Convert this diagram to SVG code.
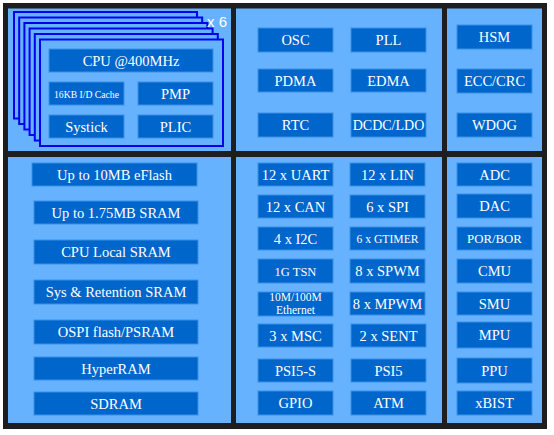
<svg xmlns="http://www.w3.org/2000/svg" width="554" height="435" viewBox="0 0 554 435">
<style>
.frame{fill:#1e1e1e}
.cell{fill:#66b2ff}
.stk{fill:#66b2ff;stroke:#0000ee;stroke-width:2}
.n{fill:#0066cc;stroke:#3b8fe3;stroke-width:1}
.t{fill:#ffffff;font-family:"Liberation Serif","Times New Roman",serif;font-size:14.5px;text-anchor:middle}
.s{font-size:12.5px}
.xs{font-size:11.5px}
.x6{fill:#ffffff;font-family:"Liberation Sans",Arial,sans-serif;font-size:15px}
</style>
<rect width="554" height="435" fill="#ffffff"/>
<rect class="frame" x="3" y="3" width="544" height="426"/>
<g id="cells">
<rect class="cell" x="8" y="8.5" width="223" height="142.5"/>
<rect class="cell" x="236" y="8.5" width="206" height="142.5"/>
<rect class="cell" x="447" y="8.5" width="95" height="142.5"/>
<rect class="cell" x="8" y="157" width="223" height="266"/>
<rect class="cell" x="236" y="157" width="206" height="266"/>
<rect class="cell" x="447" y="157" width="95" height="266"/>
</g>
<g id="cpu-stack">
<rect class="stk" x="14" y="12" width="183" height="106.5"/>
<rect class="stk" x="19.2" y="17.5" width="183" height="106.5"/>
<rect class="stk" x="24.4" y="23" width="183" height="106.5"/>
<rect class="stk" x="29.6" y="28.5" width="183" height="106.5"/>
<rect class="stk" x="34.8" y="34" width="183" height="106.5"/>
<rect class="stk" x="40" y="39.5" width="183" height="106.5"/>
<text class="x6" x="207" y="27">x 6</text>
</g>
<g id="cpu"><rect class="n" x="49" y="49" width="164" height="23"/><text class="t" x="131" y="65.5">CPU @400MHz</text></g>
<g id="cache"><rect class="n" x="49" y="82" width="75" height="23"/><text class="t" x="86.5" y="97.5" style="font-size:11px" textLength="65" lengthAdjust="spacingAndGlyphs">16KB I/D Cache</text></g>
<g id="pmp"><rect class="n" x="138" y="82" width="75" height="23"/><text class="t" x="175.5" y="98.5">PMP</text></g>
<g id="systick"><rect class="n" x="49" y="115" width="75" height="23"/><text class="t" x="86.5" y="131.5">Systick</text></g>
<g id="plic"><rect class="n" x="138" y="115" width="75" height="23"/><text class="t" x="175.5" y="131.5">PLIC</text></g>

<g id="osc"><rect class="n" x="258" y="28" width="75" height="24"/><text class="t" x="295.5" y="45">OSC</text></g>
<g id="pll"><rect class="n" x="351" y="28" width="75" height="24"/><text class="t" x="388.5" y="45">PLL</text></g>
<g id="pdma"><rect class="n" x="258" y="69" width="75" height="23"/><text class="t" x="295.5" y="85.5">PDMA</text></g>
<g id="edma"><rect class="n" x="351" y="69" width="75" height="23"/><text class="t" x="388.5" y="85.5">EDMA</text></g>
<g id="rtc"><rect class="n" x="258" y="113" width="75" height="24"/><text class="t" x="295.5" y="130">RTC</text></g>
<g id="dcdc"><rect class="n" x="351" y="113" width="75" height="24"/><text class="t" x="388.5" y="130" style="font-size:14px">DCDC/LDO</text></g>

<g id="hsm"><rect class="n" x="457" y="25" width="75" height="24"/><text class="t" x="494.5" y="42">HSM</text></g>
<g id="ecc"><rect class="n" x="457" y="69" width="75" height="24"/><text class="t" x="494.5" y="86">ECC/CRC</text></g>
<g id="wdog"><rect class="n" x="457" y="113" width="75" height="24"/><text class="t" x="494.5" y="130">WDOG</text></g>

<g id="eflash"><rect class="n" x="32" y="163" width="165" height="23"/><text class="t" x="114.5" y="179.5">Up to 10MB eFlash</text></g>
<g id="sram"><rect class="n" x="34" y="201" width="164" height="23"/><text class="t" x="116" y="217.5">Up to 1.75MB SRAM</text></g>
<g id="cpulocal"><rect class="n" x="34" y="240" width="164" height="24"/><text class="t" x="116" y="257">CPU Local SRAM</text></g>
<g id="sysret"><rect class="n" x="34" y="280" width="164" height="24"/><text class="t" x="116" y="297">Sys &amp; Retention SRAM</text></g>
<g id="ospi"><rect class="n" x="34" y="320" width="164" height="24"/><text class="t" x="116" y="337">OSPI flash/PSRAM</text></g>
<g id="hyperram"><rect class="n" x="34" y="357" width="164" height="23"/><text class="t" x="116" y="373.5">HyperRAM</text></g>
<g id="sdram"><rect class="n" x="34" y="392" width="164" height="23"/><text class="t" x="116" y="408.5">SDRAM</text></g>

<g id="uart"><rect class="n" x="258" y="163" width="75" height="23"/><text class="t" x="295.5" y="179.5">12 x UART</text></g>
<g id="lin"><rect class="n" x="350" y="163" width="75" height="23"/><text class="t" x="387.5" y="179.5">12 x LIN</text></g>
<g id="can"><rect class="n" x="258" y="195" width="75" height="23"/><text class="t" x="295.5" y="211.5">12 x CAN</text></g>
<g id="spi"><rect class="n" x="350" y="195" width="75" height="23"/><text class="t" x="387.5" y="211.5">6 x SPI</text></g>
<g id="i2c"><rect class="n" x="258" y="227" width="75" height="23"/><text class="t" x="295.5" y="243.5">4 x I2C</text></g>
<g id="gtimer"><rect class="n" x="350" y="227" width="75" height="23"/><text class="t" x="387.5" y="242.5" style="font-size:12px" textLength="62" lengthAdjust="spacingAndGlyphs">6 x GTIMER</text></g>
<g id="tsn"><rect class="n" x="258" y="259" width="75" height="24"/><text class="t s" x="295.5" y="275.5">1G TSN</text></g>
<g id="spwm"><rect class="n" x="350" y="259" width="75" height="24"/><text class="t" x="387.5" y="276">8 x SPWM</text></g>
<g id="ethernet"><rect class="n" x="258" y="292" width="75" height="24"/><text class="t xs" x="295.5" y="300.5">10M/100M</text><text class="t xs" x="295.5" y="313.5">Ethernet</text></g>
<g id="mpwm"><rect class="n" x="350" y="292" width="75" height="23"/><text class="t" x="387.5" y="308.5">8 x MPWM</text></g>
<g id="msc"><rect class="n" x="258" y="324" width="75" height="23"/><text class="t" x="295.5" y="340.5">3 x MSC</text></g>
<g id="sent"><rect class="n" x="351" y="324" width="75" height="23"/><text class="t" x="388.5" y="340.5">2 x SENT</text></g>
<g id="psi5s"><rect class="n" x="258" y="359" width="75" height="23"/><text class="t" x="295.5" y="375.5">PSI5-S</text></g>
<g id="psi5"><rect class="n" x="351" y="359" width="75" height="23"/><text class="t" x="388.5" y="375.5">PSI5</text></g>
<g id="gpio"><rect class="n" x="258" y="391" width="75" height="24"/><text class="t" x="295.5" y="408">GPIO</text></g>
<g id="atm"><rect class="n" x="351" y="391" width="75" height="24"/><text class="t" x="388.5" y="408">ATM</text></g>

<g id="adc"><rect class="n" x="457" y="163" width="75" height="23"/><text class="t" x="494.5" y="179.5">ADC</text></g>
<g id="dac"><rect class="n" x="457" y="194" width="75" height="24"/><text class="t" x="494.5" y="211">DAC</text></g>
<g id="porbor"><rect class="n" x="457" y="227" width="75" height="23"/><text class="t" x="494.5" y="243" style="font-size:12.8px">POR/BOR</text></g>
<g id="cmu"><rect class="n" x="457" y="259" width="75" height="24"/><text class="t" x="494.5" y="276">CMU</text></g>
<g id="smu"><rect class="n" x="457" y="292" width="75" height="23"/><text class="t" x="494.5" y="308.5">SMU</text></g>
<g id="mpu"><rect class="n" x="457" y="322" width="75" height="26"/><text class="t" x="494.5" y="340">MPU</text></g>
<g id="ppu"><rect class="n" x="457" y="358" width="75" height="25"/><text class="t" x="494.5" y="375.5">PPU</text></g>
<g id="xbist"><rect class="n" x="457" y="391" width="75" height="24"/><text class="t" x="494.5" y="408">xBIST</text></g>
<g id="connectors"></g>
</svg>
